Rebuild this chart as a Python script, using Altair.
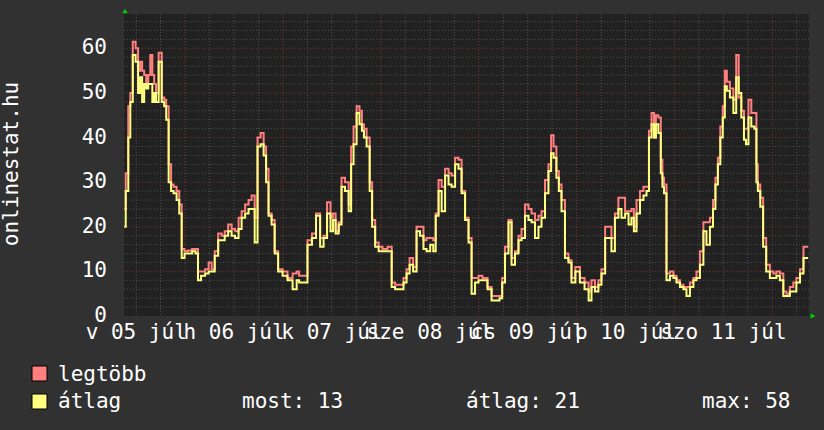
import altair as alt
import pandas as pd

# hours since 5 July 00:00
ora = [9.05, 9.8, 10.3, 10.8, 11.5, 12.2, 12.7, 13.2, 13.7, 14.2, 14.7, 15.2, 15.7, 16.2, 16.6, 17.1,
       17.9, 18.6, 19.1, 19.6, 20.3, 20.8, 21.5, 22.3, 22.8, 23.5, 24.2, 25.2, 26.2, 26.9, 27.4, 28.4,
       29.4, 30.1, 30.9, 31.6, 32.6, 33.3, 34.1, 35.0, 35.8, 36.7, 37.5, 38.2, 39.2, 39.9, 40.7, 41.4,
       42.1, 42.9, 43.6, 44.1, 44.8, 45.6, 46.3, 47.3, 48.5, 49.7, 51.0, 51.7, 52.2,
       53.4, 54.6, 55.6, 56.6, 57.6, 58.3, 59.3, 60.0, 60.5, 61.3, 62.0, 62.7, 63.7, 64.5, 64.9, 65.7,
       66.4, 67.1, 67.6, 68.1, 68.9, 69.6, 70.1, 71.1, 71.8, 73.0, 74.3, 75.0, 76.0, 77.2, 77.9, 78.7,
       79.4, 80.4, 81.1, 82.1, 82.8, 83.6, 84.6, 85.1, 85.8, 86.5, 87.3, 88.2, 89.0, 89.7, 90.7, 91.4,
       92.2, 93.1, 93.9, 94.6, 95.6, 96.3, 97.5, 98.8, 99.5, 100.7, 101.5, 102.0, 102.9, 103.7, 104.4,
       105.4, 106.1, 106.9, 107.8, 108.6, 109.3, 110.3, 111.0, 111.8, 112.7, 113.5, 114.0, 114.7, 115.4,
       115.9, 116.7, 117.6, 118.4, 119.1, 120.3, 121.3, 122.6, 123.3, 124.0, 125.0, 125.7, 126.5, 127.5,
       128.2, 128.9, 129.9, 130.6, 131.4, 132.4, 133.1, 133.8, 134.3, 135.1, 136.0, 136.8, 137.5, 138.0,
       138.8, 139.2, 139.7, 140.4, 140.9, 141.2, 141.7, 142.4, 143.4, 144.1, 144.9, 145.8, 146.6, 147.3,
       148.3, 149.0, 149.8, 150.7, 151.5, 152.2, 153.2, 153.7, 154.4, 154.9, 155.6, 156.1, 156.6, 157.1,
       158.1, 158.8, 159.5, 160.0, 160.8, 161.3, 161.8, 162.5, 163.2, 164.0, 164.2, 164.7, 165.4, 166.1,
       166.9, 167.9, 168.6, 169.4, 170.3, 171.1, 171.8, 172.8, 173.5, 174.3, 175.3, 176.0, 176.8]

legtobb = [24, 32, 47, 50, 61.5, 60, 55, 57, 55, 54, 52, 54, 58.5, 54, 52, 50,
           59, 49, 48.5, 47, 34, 29.5, 29, 28, 25, 15, 14.5, 14.7, 15, 15, 10, 10,
           10.5, 12, 10.5, 14.5, 18.5, 18, 19, 20.5, 19.5, 19, 22, 23.5, 25, 26, 27, 22,
           40, 41, 38, 33, 23, 21.5, 14.5, 10.5, 10, 8.5, 9.5, 10, 9,
           9, 17, 18.5, 23, 17.5, 18, 25.5, 22, 23, 19, 21, 31, 30, 25, 38, 42.5,
           47, 46, 43, 42, 40, 30, 21.5, 16.5, 15.5, 15, 15.5, 7.5, 7, 7, 8.5, 10.5,
           13, 11, 20, 20, 17, 17.5, 17.5, 17, 23, 30.5, 29, 33, 32, 31.5, 35.5, 35,
           28, 22, 17.5, 8.5, 8.5, 9, 8.5, 6.5, 4.5, 4.5, 4.5, 8.5, 15.5, 21.5, 13,
           14.5, 18, 19.5, 25, 24, 23, 21.5, 22.5, 23.5, 30.5, 34, 40.5, 38, 32.5,
           29.5, 26, 14, 12.5, 8.5, 11, 8.5, 7.5, 5.5, 8, 6.5, 8, 10.5, 20,
           20, 17.5, 23, 26.5, 26.5, 23.5, 23.5, 24, 20, 26, 28, 29, 29, 41.5,
           45.5, 40, 45, 44.5, 35, 31, 29.5, 9.5, 10, 9, 8, 7, 6.5, 6.5,
           7.5, 8.5, 10, 14.5, 21, 21, 22, 26, 31, 35.5, 42.5, 47, 55, 52.5,
           51, 48.5, 58.5, 49, 46, 42, 42, 48.5, 45.5, 45.5, 34, 29.5, 26.5, 17.5,
           11.5, 10, 9.5, 10, 9.5, 5.5, 5, 6.5, 7.5, 8.5, 10.5, 15.5, 15.5]

atlag = [20, 28, 40, 48, 58.5, 57, 50, 53.5, 48, 52, 51, 52, 52, 48, 50, 48,
         57, 48, 47, 44, 30, 28, 27.5, 26, 23, 13, 14, 14, 14.5, 14, 8, 9,
         9.5, 10, 10, 13.5, 17, 17, 18, 19, 18, 17.5, 19.5, 22, 23, 24, 24, 16.5,
         38, 38.5, 36, 30, 22.5, 20.5, 14, 10, 9, 8, 6, 8, 7.5,
         7.5, 16, 17.5, 22.5, 15.5, 17.5, 23, 19, 21.5, 18.5, 20.5, 29, 28, 23.5, 34, 38.5,
         45.5, 43, 41.5, 40, 38, 28, 20, 15.5, 14.5, 14.5, 14.5, 6.5, 6, 6, 7.5, 9.5,
         11.5, 10, 19, 18, 15, 14.5, 16, 14.5, 22.5, 28, 23.5, 31.5, 29.5, 29, 34, 33,
         27.5, 21.5, 16.5, 5, 7.5, 8, 8, 6, 3.5, 3.5, 4, 7.5, 14, 21, 11.5,
         14, 17, 17.5, 22.5, 21.5, 21, 17.5, 20, 22, 27.5, 32.5, 36.5, 35.5, 31,
         28, 23.5, 13, 12, 7.5, 10, 7.5, 6, 3.5, 6.5, 5.5, 7, 9.5, 17.5,
         17.5, 14.5, 22, 24, 22, 23, 20.5, 22, 19, 23, 26, 27, 28, 40,
         43, 40, 43, 41, 32, 29, 27.5, 8, 9, 8.5, 7.5, 6.5, 6, 4.5,
         6.5, 8, 8.5, 11.5, 19, 16, 20, 24, 29.5, 34, 40, 44.5, 51.5, 50.5,
         49, 45.5, 53.5, 50, 44.5, 39.5, 38.5, 44.5, 42.5, 42, 30, 28, 24.5, 15.5,
         10, 8.5, 8.5, 9, 8, 4.5, 4.5, 5.5, 5.5, 7.5, 9.5, 13, 13]

day_hours = [12, 36, 60, 84, 108, 132, 156]
day_labels = ["v 05 júl", "h 06 júl", "k 07 júl", "sze 08 júl", "cs 09 júl", "p 10 júl", "szo 11 júl"]
y_ticks = [0, 10, 20, 30, 40, 50, 60]
y_minor = [v for v in range(2, 67, 2) if v % 10 != 0]
y_major = [10, 20, 30, 40, 50, 60]
x_minor = [h for h in range(12, 177, 6) if h % 24 != 0]
x_major = [24, 48, 72, 96, 120, 144, 168]

series_names = ["legtöbb", "átlag"]
stats = ["most: 13", "átlag: 21", "max: 58"]
y_title = "onlinestat.hu"

FONT = "DejaVu Sans Mono"
FS = 21
PINK = "#FF7F7F"
YELLOW = "#FFFF80"

xs = alt.Scale(domain=[9, 177], nice=False, zero=False)
ys = alt.Scale(domain=[0, 67.7], nice=False, zero=False)

df = pd.DataFrame({"ora": ora, "legtobb": legtobb, "atlag": atlag})
one = pd.DataFrame({"d": [0]})

hmin = alt.Chart(pd.DataFrame({"v": y_minor})).mark_rule(
    color="#505050", strokeWidth=1, strokeDash=[1, 2]).encode(y=alt.Y("v:Q", scale=ys, axis=None))
hmaj = alt.Chart(pd.DataFrame({"v": y_major})).mark_rule(
    color="#7a3535", strokeWidth=1, strokeDash=[1, 2]).encode(y=alt.Y("v:Q", scale=ys, axis=None))
vmin = alt.Chart(pd.DataFrame({"h": x_minor})).mark_rule(
    color="#505050", strokeWidth=1, strokeDash=[1, 2]).encode(x=alt.X("h:Q", scale=xs, axis=None))
vmaj = alt.Chart(pd.DataFrame({"h": x_major})).mark_rule(
    color="#7a3535", strokeWidth=1, strokeDash=[1, 2]).encode(x=alt.X("h:Q", scale=xs, axis=None))

line_p = alt.Chart(df).mark_line(color=PINK, strokeWidth=2, interpolate="step").encode(
    x=alt.X("ora:Q", scale=xs, axis=None), y=alt.Y("legtobb:Q", scale=ys, axis=None))
line_y = alt.Chart(df).mark_line(color=YELLOW, strokeWidth=2, interpolate="step").encode(
    x=alt.X("ora:Q", scale=xs, axis=None), y=alt.Y("atlag:Q", scale=ys, axis=None))

ylab = alt.Chart(pd.DataFrame({"v": y_ticks})).mark_text(
    font=FONT, fontSize=FS, color="white", align="right", baseline="middle").encode(
    y=alt.Y("v:Q", scale=ys, axis=None), x=alt.value(-17), text="v:Q")

xlab = alt.Chart(pd.DataFrame({"h": day_hours, "t": day_labels})).mark_text(
    font=FONT, fontSize=FS, color="white", align="center", baseline="alphabetic").encode(
    x=alt.X("h:Q", scale=xs, axis=None), y=alt.value(324.5), text="t:N")

ytitle = alt.Chart(pd.DataFrame({"t": [y_title]})).mark_text(
    font=FONT, fontSize=FS, color="white", angle=270, align="center", baseline="middle").encode(
    x=alt.value(-112), y=alt.value(150), text="t:N")

arrow_up = alt.Chart(one).mark_point(shape="triangle-up", filled=True, color="#00cc00", size=30, opacity=1).encode(
    x=alt.value(1), y=alt.value(-3))
arrow_right = alt.Chart(one).mark_point(shape="triangle-right", filled=True, color="#00cc00", size=30, opacity=1).encode(
    x=alt.value(689), y=alt.value(302))

sq_p = alt.Chart(one).mark_rect(color=PINK, stroke="black", strokeWidth=1).encode(
    x=alt.value(-92), x2=alt.value(-77), y=alt.value(352), y2=alt.value(367))
sq_y = alt.Chart(one).mark_rect(color=YELLOW, stroke="black", strokeWidth=1).encode(
    x=alt.value(-92), x2=alt.value(-77), y=alt.value(380), y2=alt.value(395))

def txt(s, x, y):
    return alt.Chart(pd.DataFrame({"t": [s]})).mark_text(
        font=FONT, fontSize=FS, color="white", align="left", baseline="alphabetic").encode(
        x=alt.value(x), y=alt.value(y), text="t:N")

leg1 = txt(series_names[0], -66, 367)
leg2 = txt(series_names[1], -66, 394)
st1 = txt(stats[0], 118, 394)
st2 = txt(stats[1], 342, 394)
st3 = txt(stats[2], 578, 394)

chart = alt.layer(
    hmin, vmin, hmaj, vmaj, line_p, line_y, ylab, xlab, ytitle,
    arrow_up, arrow_right, sq_p, sq_y, leg1, leg2, st1, st2, st3
).properties(
    width=685, height=302,
    autosize=alt.AutoSizeParams(type="none"),
    padding={"left": 124, "top": 14, "right": 15, "bottom": 114},
    background="#313131",
).configure_view(fill="#212121", strokeWidth=0)

chart.save("out.html", embed_options={"renderer": "svg", "actions": False})
